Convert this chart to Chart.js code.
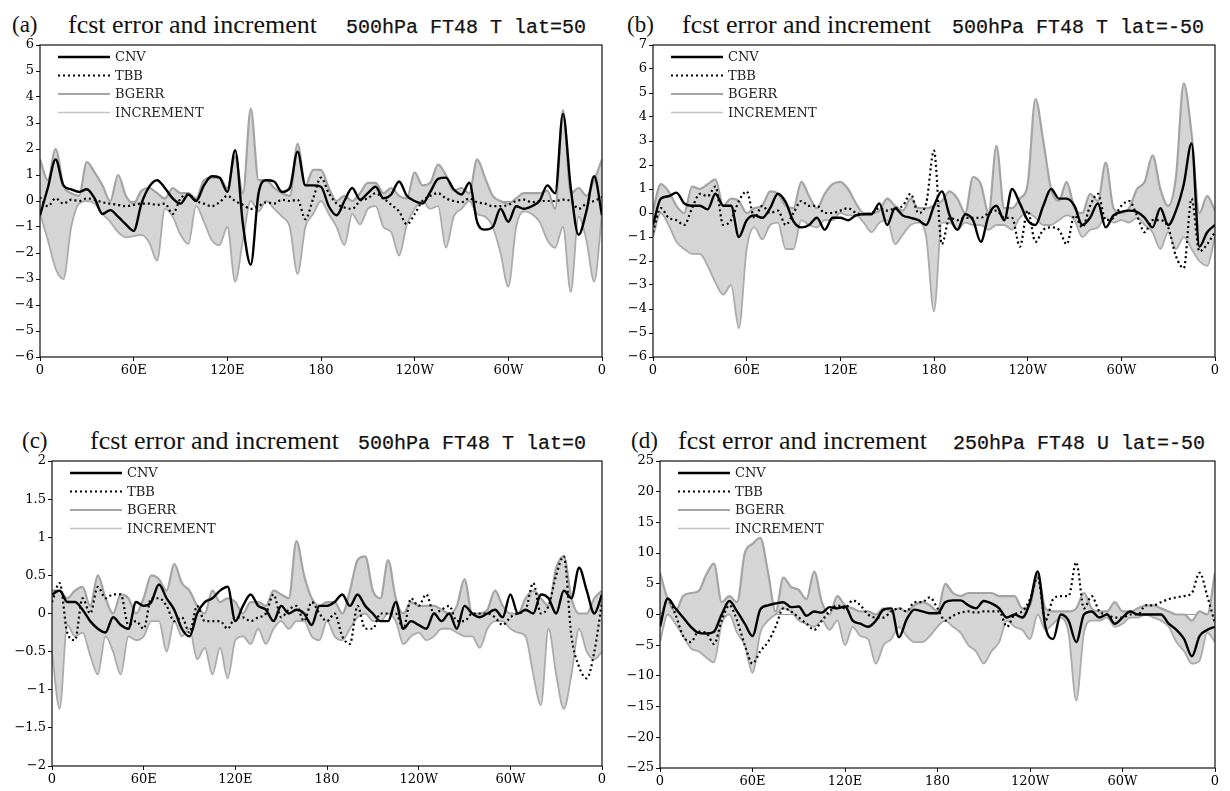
<!DOCTYPE html>
<html>
<head>
<meta charset="utf-8">
<script src="https://cdn.jsdelivr.net/npm/chart.js@4.4.1/dist/chart.umd.min.js"></script>
<style>
  html, body { margin: 0; padding: 0; background: #fff; }
  body { position: relative; width: 1230px; height: 791px; overflow: hidden; }
  canvas { position: absolute; }
  .tag, .ttl, .lvl { position: absolute; white-space: pre; color: #111; line-height: 1; }
  .tag { font: 23px "Liberation Serif", serif; }
  .ttl { font: 26px "Liberation Serif", serif; }
  .lvl { font: 20px "Liberation Mono", monospace; -webkit-text-stroke: 0.25px #111; }
</style>
</head>
<body>
<div class="tag" style="left:12px;top:12px">(a)</div>
<div class="ttl" style="left:68px;top:10px">fcst error and increment</div>
<div class="lvl" style="left:346px;top:16px">500hPa FT48 T lat=50</div>

<div class="tag" style="left:627px;top:12px">(b)</div>
<div class="ttl" style="left:682px;top:10px">fcst error and increment</div>
<div class="lvl" style="left:952px;top:16px">500hPa FT48 T lat=-50</div>

<div class="tag" style="left:22px;top:428px">(c)</div>
<div class="ttl" style="left:90px;top:426px">fcst error and increment</div>
<div class="lvl" style="left:358px;top:432px">500hPa FT48 T lat=0</div>

<div class="tag" style="left:631px;top:428px">(d)</div>
<div class="ttl" style="left:678px;top:426px">fcst error and increment</div>
<div class="lvl" style="left:953px;top:432px">250hPa FT48 U lat=-50</div>

<canvas id="panelA" width="612" height="352" style="left:0px;top:35px"></canvas>
<canvas id="panelB" width="612" height="352" style="left:613px;top:35px"></canvas>
<canvas id="panelC" width="612" height="340" style="left:0px;top:451px"></canvas>
<canvas id="panelD" width="612" height="340" style="left:613px;top:451px"></canvas>

<script>
// longitude grid, 0 -> 360 every 5 degrees
const LON = [
  0, 5, 10, 15, 20, 25, 30, 35, 40, 45, 50, 55,
  60, 65, 70, 75, 80, 85, 90, 95, 100, 105, 110, 115,
  120, 125, 130, 135, 140, 145, 150, 155, 160, 165, 170, 175,
  180, 185, 190, 195, 200, 205, 210, 215, 220, 225, 230, 235,
  240, 245, 250, 255, 260, 265, 270, 275, 280, 285, 290, 295,
  300, 305, 310, 315, 320, 325, 330, 335, 340, 345, 350, 355,
  360
];
const LON_TICKS = ['0', '60E', '120E', '180', '120W', '60W', '0'];
const NAMES = ['CNV', 'TBB', 'BGERR', 'INCREMENT'];

// (a) 500hPa T lat=50
const A_CNV = [
  -0.55, 0.5, 1.6, 0.6, 0.45, 0.35, 0.45, 0.1, -0.5, -0.35, -0.6, -0.9,
  -1.15, -0.1, 0.55, 0.8, 0.5, 0.1, -0.1, 0.25, 0.0, 0.6, 0.95, 0.9,
  0.35, 1.95, -0.9, -2.45, 0.3, 0.8, 0.75, 0.35, 0.5, 1.9, 0.6, 0.6,
  0.55, -0.2, -0.55, 0.0, 0.5, 0.05, 0.3, 0.55, 0.1, 0.25, 0.75, 0.2,
  0.0, -0.1, 0.35, 0.85, 0.9, 0.45, 0.25, 0.7, -0.8, -1.1, -1.0, -0.3,
  -0.8, -0.2, -0.3, -0.2, 0.0, 0.6, 0.3, 3.35, 0.5, -1.3, -0.4, 0.95,
  -0.55
];
const A_TBB = [
  0.15, -0.2, 0.1, -0.1, 0.05, 0.0, 0.1, 0.05, -0.05, -0.1, -0.15, -0.2,
  -0.15, -0.1, -0.1, -0.15, -0.1, -0.5, 0.1, 0.25, 0.0, -0.1, -0.2, -0.05,
  0.2, 0.0, -0.15, -0.3, -0.2, -0.05, -0.1, 0.05, 0.0, 0.05, -0.7, 0.1,
  0.9, 0.3, -0.1, -0.25, -0.3, 0.0, 0.1, 0.3, 0.1, -0.15, -0.4, -0.9,
  -0.5, 0.0, 0.2, 0.3, 0.1, 0.0, -0.05, 0.1, -0.05, -0.1, -0.2, -0.2,
  -0.15, 0.0, 0.05, -0.05, 0.0, 0.0, 0.0, 0.05, 0.0, -0.3, -0.1, 0.0,
  0.15
];
const A_BGERR = [
  1.6, 0.8, 2.0, 0.6, 0.3, 0.2, 1.5, 1.1, 0.6, 0.0, 1.0, 0.2,
  -0.1, 0.4, 0.5, 0.3, 0.1, 0.5, 0.3, 0.3, 0.1, 0.8, 0.9, 0.9,
  0.5, 1.7, 0.3, 3.55, 0.8, 0.8, 0.5, 0.3, 0.2, 2.2, 0.6, 1.2,
  1.2, 0.5, 0.0, 0.2, 0.0, 0.3, 0.7, 0.7, 0.3, 0.5, 0.2, 0.1,
  1.1, 0.6, 0.7, 1.4, 1.0, 0.4, 0.5, 0.3, 1.6, 0.9, 0.2, 0.0,
  -0.1, 0.1, 0.3, 0.3, 0.3, 0.4, -0.3, 3.5, 0.3, 0.5, 0.2, 0.8,
  1.6
];
const A_INCR = [
  -0.5, -1.5, -2.6, -3.0, -1.0, -0.1, 0.0, -0.1, -0.5, -0.8, -1.2, -1.4,
  -1.35, -1.3, -1.6, -2.3, -0.3, -0.6, -1.3, -1.65, -0.2, -0.8, -1.5, -1.7,
  -1.0, -3.1, -1.5, 0.0, -0.4, 0.0, -0.3, -0.6, -1.0, -2.8, -1.0, -0.5,
  0.0, -0.5, -1.0, -1.7, -0.5, -0.9, -0.3, -0.2, -1.0, -1.2, -2.1, -0.9,
  -0.3, 0.0, -0.3, -0.2, -1.8, -0.6, -0.3, 0.0, -0.5, -0.6, -1.0, -2.0,
  -3.3, -1.0, -0.4, -0.5, -0.8, -1.5, -1.8, -1.0, -3.5, -0.6, -1.5, -3.1,
  -0.5
];

// (b) 500hPa T lat=-50
const B_CNV = [
  -0.5, 0.6, 0.7, 0.85, 0.4, 0.3, 0.3, 0.15, 0.8, 0.3, 0.3, -1.0,
  -0.3, -0.1, -0.2, 0.2, 0.8, 0.45, -0.35, -0.6, -0.5, -0.2, -0.7, -0.2,
  -0.2, -0.3, -0.1, -0.05, -0.05, 0.4, -0.5, 0.2, -0.1, -0.2, -0.3, -0.5,
  0.3, 0.9, -0.1, -0.7, -0.05, -0.3, -1.2, -0.1, 0.3, -0.3, 1.0, 0.4,
  -0.3, -0.5, 0.3, 1.0, 0.6, 0.6, 0.3, -0.5, -0.2, 0.4, -0.6, -0.1,
  0.05, 0.1, 0.05, -0.2, -0.6, 0.2, -0.5, 0.1, 1.2, 2.9, -1.4, -0.8,
  -0.5
];
const B_TBB = [
  -0.8, 0.2, -0.2, -0.3, -0.5, 0.2, 0.8, 0.7, 1.1, -0.5, -0.3, 0.5,
  0.9, -0.2, 0.3, 0.0, 0.1, -0.5, 0.0, 0.5, 0.3, 0.3, 0.0, 0.0,
  0.1, 0.2, 0.0, -0.05, 0.0, 0.2, 0.1, 0.2, 0.3, 0.8, 0.0, 0.4,
  2.6, -1.3, -0.2, -0.3, -0.2, -0.2, -0.2, 0.0, 0.1, -0.2, -0.2, -1.4,
  0.1, -1.2, -0.7, -0.6, -0.7, -1.3, -0.1, -0.6, 0.3, 0.8, -0.3, -0.2,
  0.3, 0.5, -0.1, -0.8, -0.3, -0.3, -0.6, -1.8, -2.3, 0.6, -1.6, -1.3,
  -0.8
];
const B_BGERR = [
  0.1, 1.2, 0.9, 0.3, 0.0, 1.1, 1.0, 1.2, 1.4, 0.3, 0.6, 0.5,
  0.0, 0.2, 0.3, 0.9, 0.8, 0.3, 0.2, 1.3, 0.7, 0.2, 0.8, 1.2,
  1.3, 1.0, 0.4, 0.0, 0.0, 0.1, 0.6, 0.3, 0.1, 0.6, 0.2, 0.2,
  0.3, 0.5, 0.9, 0.6, 0.0, 1.5, 1.2, 0.0, 2.8, 0.2, 0.2, 0.6,
  1.2, 4.75, 3.0, 1.0, 0.5, 1.3, 0.2, 0.0, 0.8, 0.5, 2.1, 0.2,
  0.0, 0.2, 1.0, 1.3, 2.4, 1.0, 0.3, 1.5, 5.4, 3.3, 0.0, 0.7,
  0.1
];
const B_INCR = [
  -1.0, 0.0, -0.5, -1.2, -1.5, -1.7, -1.7, -2.2, -2.9, -3.4, -3.0, -4.8,
  -1.5, -0.6, -1.1, -0.5, -0.4, -1.5, -1.5, -0.3, -0.5, -0.6, -0.3, -0.3,
  0.0, -0.1, -0.1, -0.4, -0.8, -0.4, -0.3, -1.3, -0.9, -0.5, -0.4, -1.0,
  -4.1, -0.4, -0.4, -0.7, -0.4, -0.5, -0.5, -0.7, -0.5, -0.5, -0.7, -0.2,
  0.0, -0.2, -0.5, -0.5, -0.3, -0.1, -0.3, -1.0, -0.7, -0.6, -0.2, -0.4,
  -0.3, -0.4, -0.2, -0.5, -0.8, -1.5, -0.8, -1.5, -1.0, -1.5, -2.0, -2.2,
  -1.0
];

// (c) 500hPa T lat=0
const C_CNV = [
  0.25, 0.3, 0.15, 0.15, 0.05, -0.1, -0.2, -0.25, -0.05, -0.15, -0.2, 0.15,
  0.1, 0.15, 0.38, 0.2, 0.05, -0.2, -0.3, 0.0, 0.15, 0.2, 0.3, 0.35,
  -0.1, 0.1, 0.25, 0.1, 0.05, -0.1, 0.1, 0.0, 0.05, 0.0, -0.15, 0.1,
  0.1, 0.15, 0.25, 0.1, 0.25, 0.1, 0.0, -0.1, -0.1, 0.15, -0.2, -0.1,
  -0.15, -0.2, 0.0, -0.1, 0.0, -0.2, 0.1, 0.0, -0.05, 0.0, 0.05, -0.05,
  0.25, 0.0, 0.05, 0.0, 0.25, 0.2, 0.0, 0.3, 0.2, 0.6, 0.3, 0.0,
  0.25
];
const C_TBB = [
  0.15, 0.4, -0.25, -0.35, 0.2, 0.0, 0.35, 0.2, 0.25, 0.25, -0.15, -0.1,
  -0.2, 0.2, 0.2, 0.1, -0.1, -0.05, -0.25, 0.1, -0.1, -0.1, -0.1, -0.2,
  -0.05, -0.05, -0.1, -0.05, 0.0, 0.25, -0.05, 0.05, 0.1, -0.1, 0.15, 0.0,
  -0.1, 0.0, -0.3, -0.4, 0.1, -0.2, -0.2, 0.0, 0.0, 0.0, -0.2, 0.2,
  0.1, 0.25, 0.0, 0.05, 0.1, -0.1, -0.1, 0.0, 0.0, 0.0, -0.05, -0.15,
  -0.05, 0.0, 0.05, 0.4, 0.0, 0.1, 0.5, 0.75, -0.3, -0.7, -0.85, -0.5,
  0.15
];
const C_BGERR = [
  0.3, 0.3, 0.2, 0.3, 0.35, 0.1, 0.5, 0.2, 0.0, 0.25, 0.2, 0.0,
  0.2, 0.5, 0.45, 0.3, 0.65, 0.4, 0.3, 0.1, 0.0, 0.3, 0.15, 0.2,
  0.15, 0.0, 0.15, 0.15, 0.1, 0.3, 0.25, 0.2, 0.95, 0.5, 0.2, 0.1,
  0.15, 0.15, 0.0, 0.3, 0.7, 0.75, 0.3, 0.2, 0.7, 0.2, 0.0, 0.15,
  0.1, 0.1, 0.1, 0.05, 0.0, 0.1, 0.45, 0.0, 0.0, 0.05, 0.3, 0.1,
  0.0, 0.0, 0.2, 0.3, 0.2, 0.1, 0.6, 0.75, 0.2, 0.0, 0.0, 0.2,
  0.3
];
const C_INCR = [
  -0.5, -1.25, -0.15, -0.3, -0.25, -0.55, -0.8, -0.3, -0.5, -0.8, -0.3, -0.35,
  -0.3, -0.1, -0.1, -0.5, -0.1, -0.3, -0.2, -0.6, -0.45, -0.8, -0.45, -0.85,
  -0.35, -0.3, -0.4, -0.2, -0.4, -0.2, -0.1, -0.2, -0.1, -0.1, -0.3, -0.35,
  -0.1, -0.3, -0.35, -0.2, -0.05, 0.0, -0.1, -0.1, 0.0, -0.1, -0.4, -0.3,
  -0.25, -0.35, -0.3, -0.2, -0.2, -0.25, -0.3, -0.3, -0.45, -0.2, -0.1, -0.1,
  -0.2, -0.25, -0.3, -0.8, -1.2, -0.2, -0.8, -1.25, -0.8, -0.2, -0.5, -0.6,
  -0.5
];

// (d) 250hPa U lat=-50
const D_CNV = [
  -2.0, 2.6, 1.0, -0.5, -2.0, -3.0, -3.1, -2.8, 0.0, 2.2, 0.5, -1.5,
  -3.5, 0.8, 1.5, 1.8, 2.0, 1.2, 1.3, -0.2, 0.5, 0.3, 1.2, 1.0,
  1.3, -1.0, -1.5, -2.0, -1.0, 0.8, 1.0, -3.7, -0.8, 0.8, 0.5, 0.2,
  0.2, 2.0, 2.3, 2.3, 1.5, 1.0, 2.2, 1.8, 1.0, -0.5, 0.0, -0.5,
  2.0, 7.0, -2.0, -4.0, 0.0, -1.0, -4.5, 0.0, 0.5, -0.5, 0.0, -1.5,
  -0.5, 0.5, 0.0, 0.0, 0.0, 0.0, -1.5, -2.5, -4.0, -6.8, -3.5, -2.5,
  -2.0
];
const D_TBB = [
  -1.5, 2.5, 0.0, -3.5, -4.5, -2.8, -3.0, -4.8, -1.0, 1.5, -1.0, -5.0,
  -8.0, -6.0, -4.5, -2.0, 1.0, 0.5, -0.5, -1.5, -2.5, -1.0, 0.5, 1.5,
  1.0, 2.3, 1.5, 0.0, -0.5, -0.5, 0.5, 1.0, 0.5, 2.0, 2.0, 2.8,
  1.0, -1.0, -0.2, 0.3, 0.5, 0.3, 0.5, 0.5, 0.5, -2.0, 0.0, 0.5,
  2.5, 6.0, -1.0, 2.5, 3.0, 3.0, 8.5, 1.0, 3.0, 0.5, 0.0, -0.5,
  -0.5, 0.0, 0.0, 1.5, 1.5, 2.0, 2.5, 2.8, 3.0, 3.5, 6.8, 3.0,
  -1.5
];
const D_BGERR = [
  6.8, 2.5, 0.5, 3.0, 3.5, 3.8, 6.5, 8.3, 2.0, 3.0, 2.0, 10.0,
  11.5, 12.5, 7.0, 0.5, 6.0, 4.5, 4.0, 2.5, 7.0, 2.0, 0.0, 3.0,
  1.5, 1.0, 0.5, 0.5, 0.0, 1.0, 0.5, 1.0, 0.5, 1.5, 2.0, 1.5,
  0.5, 5.0, 3.5, 3.0, 3.5, 3.5, 3.5, 3.5, 3.0, 3.0, 3.0, 1.0,
  1.5, 6.5, 1.0, 0.5, 0.5, 0.5, 1.0, 3.5, 1.0, 0.5, 0.5, 2.0,
  0.5, 0.5, 1.0, 1.5, 1.5, 1.0, 0.5, 0.0, 0.0, -1.0, 0.5, 0.0,
  6.8
];
const D_INCR = [
  -4.5, 0.0, -1.5, -3.5, -5.5, -6.0, -7.0, -7.8, -1.5, 0.0, -3.0, -5.0,
  -9.5, -3.0, -1.0, 0.0, 1.0, 0.5, -1.0, -1.5, -2.0, -1.0, -2.5, -1.0,
  -5.0, -2.0, -3.5, -4.0, -8.0, -5.0, -4.0, -2.0, -3.5, -4.5, -4.5, -3.5,
  -2.0, -1.0, -2.0, -3.0, -5.0, -6.0, -8.0, -6.0, -4.5, -1.0, -2.0, -2.5,
  -4.0, 0.0, -2.5, -1.5, -0.5, -3.0, -14.0, -3.0, -1.0, -1.0, -0.5, -2.0,
  -1.5, -0.5, -0.5, 0.0, -0.5, -1.0, -2.0, -4.5, -6.0, -8.0, -7.5, -3.0,
  -4.5
];

const TICK_FONT = { family: '"DejaVu Serif", serif', size: 13 };

// black box round the plot area
const frame = {
  id: 'frame',
  afterDraw(chart) {
    const { ctx, chartArea: a } = chart;
    ctx.save();
    ctx.strokeStyle = '#111';
    ctx.lineWidth = 1.2;
    ctx.strokeRect(a.left, a.top, a.right - a.left, a.bottom - a.top);
    ctx.restore();
  }
};

// line samples with names, top left inside the plot
const lineKey = {
  id: 'lineKey',
  afterDatasetsDraw(chart) {
    const { ctx, chartArea: a } = chart;
    ctx.save();
    chart.data.datasets.forEach((ds, i) => {
      const y = a.top + 12 + i * 18.5;
      ctx.beginPath();
      ctx.setLineDash(ds.borderDash || []);
      ctx.lineWidth = ds.keyWidth || ds.borderWidth;
      ctx.strokeStyle = ds.keyColor || ds.borderColor;
      ctx.moveTo(a.left + 18, y);
      ctx.lineTo(a.left + 70, y);
      ctx.stroke();
      ctx.setLineDash([]);
      ctx.fillStyle = '#222';
      ctx.font = '13px "DejaVu Serif", serif';
      ctx.textBaseline = 'middle';
      ctx.fillText(ds.label, a.left + 75, y + 1);
    });
    ctx.restore();
  }
};

function pts(vals) {
  return LON.map((x, i) => ({ x, y: vals[i] }));
}

function makePanel(id, yW, xH, yMin, yMax, yStep, cnv, tbb, bgerr, incr) {
  const common = { pointRadius: 0, cubicInterpolationMode: 'monotone', fill: false };
  new Chart(document.getElementById(id), {
    type: 'line',
    data: {
      datasets: [
        { ...common, label: NAMES[0], data: pts(cnv), borderColor: '#000', borderWidth: 2.4, order: 0 },
        { ...common, label: NAMES[1], data: pts(tbb), borderColor: '#000', borderWidth: 2.2,
          borderDash: [2, 3], order: 1 },
        { ...common, label: NAMES[2], data: pts(bgerr), borderColor: '#a4a4a4', borderWidth: 2.2,
          fill: '+1', backgroundColor: '#d5d5d5', order: 3 },
        { ...common, label: NAMES[3], data: pts(incr), borderColor: '#ababab', borderWidth: 1.8,
          keyColor: '#c4c4c4', keyWidth: 1.5, order: 2 }
      ]
    },
    options: {
      responsive: false,
      animation: false,
      devicePixelRatio: 1,
      layout: { padding: { top: 10, right: 10, left: 0, bottom: 0 } },
      plugins: { legend: { display: false }, tooltip: { enabled: false } },
      scales: {
        x: {
          type: 'linear', min: 0, max: 360,
          afterFit: s => { s.height = xH; },
          border: { display: false },
          grid: { drawOnChartArea: false, tickLength: 4, color: '#111' },
          ticks: {
            stepSize: 60, autoSkip: false, maxRotation: 0, padding: 2,
            color: '#000', font: TICK_FONT,
            callback: (v) => LON_TICKS[Math.round(v / 60)]
          }
        },
        y: {
          min: yMin, max: yMax,
          afterFit: s => { s.width = yW; },
          border: { display: false },
          grid: {
            tickLength: 4, tickColor: '#111', lineWidth: 1,
            color: c => (c.tick && c.tick.value === 0 ? '#9a9a9a' : 'rgba(0,0,0,0)')
          },
          ticks: {
            stepSize: yStep, autoSkip: false, padding: 2,
            color: '#000', font: TICK_FONT,
            callback: v => String(Math.round(v * 100) / 100).replace('-', '\u2212')
          }
        }
      }
    },
    plugins: [lineKey, frame]
  });
}

makePanel('panelA', 40, 30, -6, 6, 1, A_CNV, A_TBB, A_BGERR, A_INCR);
makePanel('panelB', 40, 30, -6, 7, 1, B_CNV, B_TBB, B_BGERR, B_INCR);
makePanel('panelC', 52, 25, -2, 2, 0.5, C_CNV, C_TBB, C_BGERR, C_INCR);
makePanel('panelD', 47, 23, -25, 25, 5, D_CNV, D_TBB, D_BGERR, D_INCR);
</script>
</body>
</html>
